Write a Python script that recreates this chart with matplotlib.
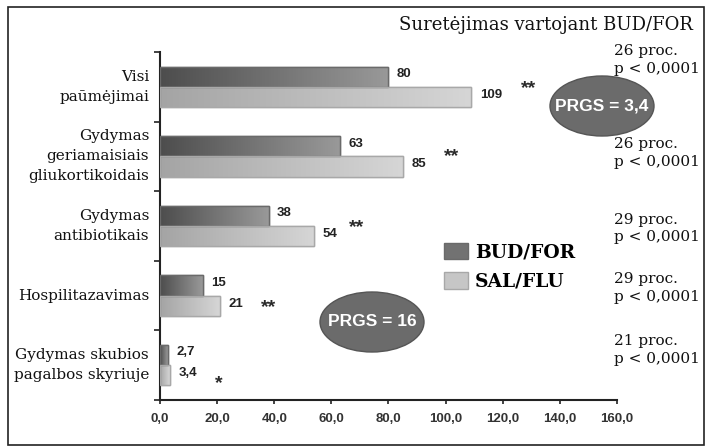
import numpy as np
import matplotlib
matplotlib.use('Agg')
import matplotlib.pyplot as plt
from matplotlib.colors import LinearSegmentedColormap
from matplotlib.patches import Ellipse, Rectangle
from matplotlib.transforms import blended_transform_factory

# duomenys
categories = ['Visi\npaūmėjimai',
              'Gydymas\ngeriamaisiais\ngliukortikoidais',
              'Gydymas\nantibiotikais',
              'Hospilitazavimas',
              'Gydymas skubios\npagalbos skyriuje']
bud_for = [80, 63, 38, 15, 2.7]
sal_flu = [109, 85, 54, 21, 3.4]
value_labels_bud = ['80', '63', '38', '15', '2,7']
value_labels_sal = ['109', '85', '54', '21', '3,4']
stars = ['**', '**', '**', '**', '*']
star_x = [129, 102, 69, 38, 20.7]
star_y = [0.02, 1.0, 2.02, 3.17, 4.27]
reduction = [26, 26, 29, 29, 21]
p_text = 'p < 0,0001'
note_y = [-0.385, 0.95, 2.04, 2.89, 3.78]
xticks = [0, 20, 40, 60, 80, 100, 120, 140, 160]

serif = 'DejaVu Serif'
sans = 'Liberation Sans'

fig = plt.figure(figsize=(7.05, 4.46), dpi=100)
ax = fig.add_axes([0.227, 0.1031, 0.648, 0.7803])

y = np.arange(len(categories))
h = 0.29
dark_cmap = LinearSegmentedColormap.from_list('dark', ['#4d4d4d', '#999999'])
light_cmap = LinearSegmentedColormap.from_list('light', ['#a4a4a4', '#d6d6d6'])

bars1 = ax.barh(y - h / 2, bud_for, height=h, color='#727272',
                edgecolor='#6a6a6a', linewidth=1, label='BUD/FOR', zorder=2)
bars2 = ax.barh(y + h / 2, sal_flu, height=h, color='#c6c6c6',
                edgecolor='#a8a8a8', linewidth=1, label='SAL/FLU', zorder=2)

grad = np.linspace(0, 1, 256).reshape(1, -1)
for bars, cmap in ((bars1, dark_cmap), (bars2, light_cmap)):
    for b in bars:
        x0, y0, w, hh = b.get_x(), b.get_y(), b.get_width(), b.get_height()
        im = ax.imshow(grad, extent=[x0, x0 + w, y0, y0 + hh], cmap=cmap,
                       aspect='auto', zorder=2.5, interpolation='bilinear')
        im.set_clip_path(b)
        # krasto linija virš gradiento
        ax.add_patch(Rectangle((x0, y0), w, hh, fill=False, edgecolor=b.get_edgecolor(),
                               linewidth=1, zorder=3))

for i in range(len(categories)):
    ax.text(bud_for[i] + 3, y[i] - h / 2 - 0.04, value_labels_bud[i], ha='left',
            va='center', fontsize=9.5, fontweight='bold', family=sans, color='#222222')
    ax.text(sal_flu[i] + 3, y[i] + h / 2 - 0.03, value_labels_sal[i], ha='left',
            va='center', fontsize=9.5, fontweight='bold', family=sans, color='#222222')
    ax.text(star_x[i], star_y[i], stars[i], ha='center', va='center',
            fontsize=14, fontweight='bold', family=sans, color='#2a2a2a')

ax.set_xlim(0, 160)
ax.set_ylim(4.5, -0.5)
ax.set_xticks(xticks)
ax.set_xticklabels([f'{v:.1f}'.replace('.', ',') for v in xticks],
                   fontsize=9.5, fontweight='bold', family=sans, color='#333333')
ax.set_yticks(np.arange(-0.5, 5, 1))
ax.set_yticklabels([])
ax.tick_params(axis='x', length=3, width=1.2, color='#222222', pad=6)
ax.tick_params(axis='y', length=4, width=1.2, color='#222222')
for s in ['top', 'right']:
    ax.spines[s].set_visible(False)
for s in ['left', 'bottom']:
    ax.spines[s].set_linewidth(1.5)
    ax.spines[s].set_color('#222222')

tr = blended_transform_factory(ax.transAxes, ax.transData)
for i, c in enumerate(categories):
    ax.text(-0.024, y[i], c, transform=tr, ha='right', va='center', fontsize=11,
            family=serif, color='#111111', multialignment='right', linespacing=1.55)

for i in range(len(categories)):
    ax.text(0.993, note_y[i], f'{reduction[i]} proc.\n{p_text}', transform=tr,
            ha='left', va='center', fontsize=11, family=serif, color='#111111',
            linespacing=1.3, clip_on=False)

fig.text(0.983, 0.944, 'Suretėjimas vartojant BUD/FOR', ha='right', va='center',
         fontsize=13, family=serif, color='#111111')

# PRGS elipsės
for (cx, cy, txt) in [(602, 106, 'PRGS = 3,4'), (372, 322, 'PRGS = 16')]:
    fig.add_artist(Ellipse((cx / 705, 1 - cy / 446), 104 / 705, 60 / 446,
                           transform=fig.transFigure, facecolor='#6b6b6b',
                           edgecolor='#555555', linewidth=1, zorder=5))
    fig.text(cx / 705, 1 - cy / 446, txt, ha='center', va='center', fontsize=12.5,
             fontweight='bold', family=sans, color='white', zorder=6)

ax.legend(handles=[bars1, bars2], loc='upper left', bbox_to_anchor=(0.593, 0.49),
          frameon=False, prop={'family': serif, 'weight': 'bold', 'size': 13.5},
          handlelength=1.25, handleheight=1.0, handletextpad=0.4, labelspacing=0.55,
          borderpad=0.2)

# rėmelis
fig.add_artist(Rectangle((8 / 705, 1 / 446), 696 / 705, 438 / 446, transform=fig.transFigure,
                         fill=False, edgecolor='#222222', linewidth=1.2))

fig.savefig('out.png', dpi=100)
